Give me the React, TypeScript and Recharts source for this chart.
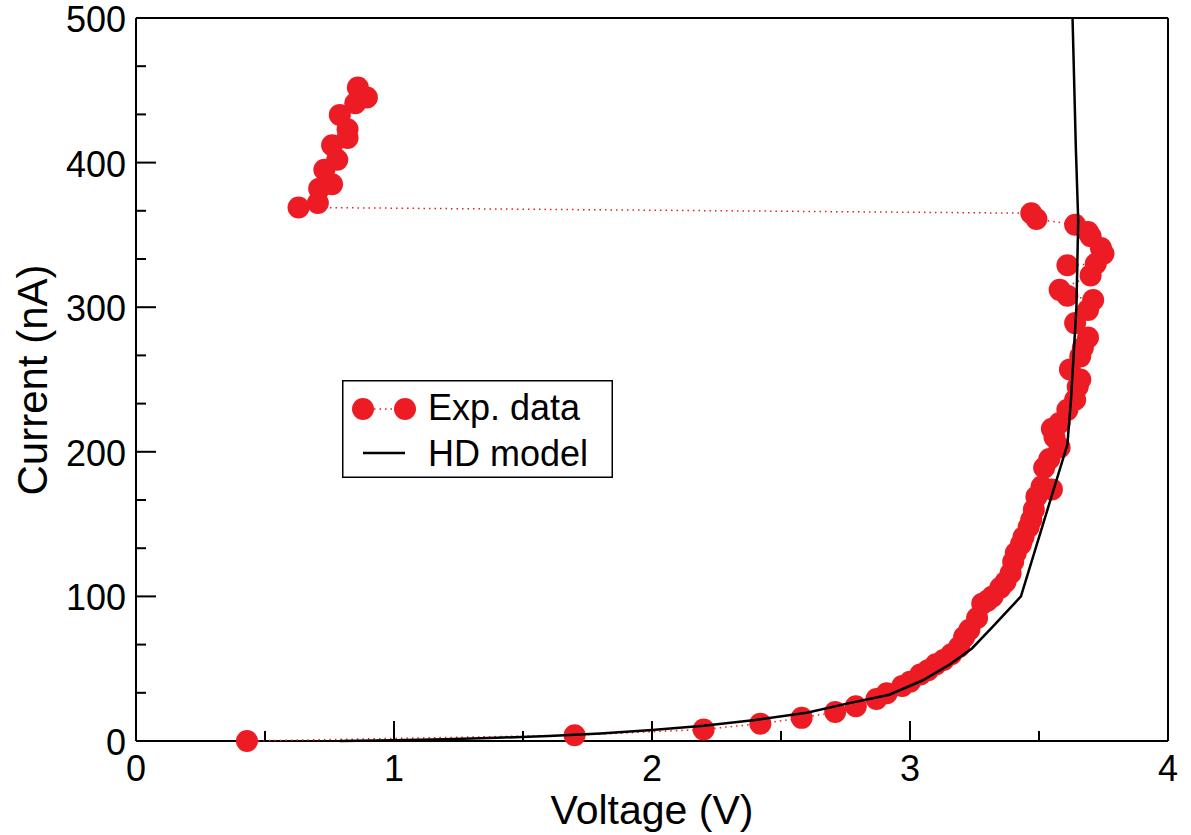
import {
  Legend,
  ReferenceLine,
  Scatter,
  ScatterChart,
  XAxis,
  YAxis
} from "recharts";

// measured I-V sweep, in sweep order
const expVoltage = [
  0.43, 1.7, 2.2, 2.42, 2.58, 2.71, 2.79, 2.87, 2.91, 2.97, 3.0, 3.04, 3.07,
  3.1, 3.13, 3.16, 3.19, 3.21, 3.23, 3.26, 3.28, 3.3, 3.32, 3.35, 3.37, 3.39,
  3.4, 3.41, 3.43, 3.44, 3.46, 3.47, 3.48, 3.49, 3.51, 3.55, 3.52, 3.54, 3.58,
  3.56, 3.55, 3.58, 3.61, 3.64, 3.65, 3.66, 3.62, 3.66, 3.67, 3.69, 3.64,
  3.69, 3.71, 3.61, 3.58, 3.7, 3.61, 3.72, 3.75, 3.74, 3.7, 3.69, 3.64, 3.49,
  3.47, 0.63, 0.705, 0.71, 0.76, 0.73, 0.78, 0.76, 0.82, 0.82, 0.79, 0.85,
  0.895, 0.86
];
const expCurrent = [
  0, 4, 8, 12, 16, 20, 24, 29, 33, 38, 41, 46, 49, 53, 56, 60, 65, 72, 77, 85,
  95, 97, 100, 106, 110, 116, 124, 130, 136, 141, 148, 153, 160, 169, 176, 174,
  189, 195, 203, 210, 216, 220, 229, 236, 245, 250, 257, 266, 272, 279, 289,
  298, 305, 308, 312, 322, 329, 330, 337, 341, 349, 352, 357, 361, 365, 369,
  372, 382, 385, 395, 402, 412, 417, 423, 433, 441, 445, 452
];

// hydrodynamic model curve
const modelVoltage = [
  0.79, 1.0, 1.2, 1.4, 1.6, 1.8, 2.0, 2.2, 2.4, 2.6, 2.76, 2.92, 3.05, 3.155,
  3.24, 3.32, 3.43, 3.61, 3.624, 3.645, 3.652, 3.643, 3.63
];
const modelCurrent = [
  0, 0.6, 1.2, 2.2, 3.5, 5.2, 7.6, 10.5, 14.5, 19.5, 26, 32, 42, 53, 64, 79,
  100, 205, 236, 300, 360, 409, 500
];

const xTicks = [0, 0.5, 1, 1.5, 2, 2.5, 3, 3.5, 4];
const yTicks = [
  0, 33.33, 66.67, 100, 133.33, 166.67, 200, 233.33, 266.67, 300, 333.33,
  366.67, 400, 433.33, 466.67, 500
];

const expData = expVoltage.map((v, i) => ({ v, i: expCurrent[i] }));
const modelData = modelVoltage.map((v, i) => ({ v, i: modelCurrent[i] }));

const font = '"Liberation Sans", Arial, Helvetica, sans-serif';
const red = "#ed1c24";

const isMajor = (value: number) => Math.abs(value - Math.round(value)) < 1e-6;

function XTick({ x, y, payload }: any) {
  const major = isMajor(payload.value);
  return (
    <g>
      <line x1={x} x2={x} y1={y} y2={y - (major ? 20 : 10)} stroke="#000" strokeWidth={2} />
      {major && (
        <text x={x} y={y + 40} textAnchor="middle" fontSize={36} fontFamily={font} fill="#000">
          {payload.value}
        </text>
      )}
    </g>
  );
}

function YTick({ x, y, payload }: any) {
  const major = isMajor(payload.value / 100);
  return (
    <g>
      <line x1={x} x2={x + (major ? 20 : 10)} y1={y} y2={y} stroke="#000" strokeWidth={2} />
      {major && (
        <text x={x - 10} y={y + 14} textAnchor="end" fontSize={36} fontFamily={font} fill="#000">
          {Math.round(payload.value)}
        </text>
      )}
    </g>
  );
}

function LegendBox({ payload }: any) {
  const names = (payload ?? []).map((p: any) => p.value);
  return (
    <svg width={271} height={98} style={{ display: "block" }}>
      <rect x={0.75} y={0.75} width={269.5} height={96.5} fill="#fff" stroke="#000" strokeWidth={1.5} />
      <line x1={21} x2={63} y1={29} y2={29} stroke={red} strokeWidth={1.5} strokeDasharray="1.5 4" />
      <circle cx={21} cy={29} r={11} fill={red} />
      <circle cx={63} cy={29} r={11} fill={red} />
      <text x={86} y={40} fontSize={36} fontFamily={font} fill="#000">
        {names[0] ?? "Exp. data"}
      </text>
      <line x1={21} x2={63} y1={73} y2={73} stroke="#000" strokeWidth={2.5} />
      <text x={86} y={86} fontSize={36} fontFamily={font} fill="#000">
        {names[1] ?? "HD model"}
      </text>
    </svg>
  );
}

const Dot = (props: any) => <circle cx={props.cx} cy={props.cy} r={11} fill={red} />;
const NoDot = () => <g />;

export default function App() {
  return (
    <div style={{ position: "absolute", left: 0, top: 0, width: 1191, height: 835, background: "#fff" }}>
      <ScatterChart width={1191} height={835} margin={{ top: 18, right: 23, bottom: 14, left: 36 }}>
        <XAxis
          dataKey="v"
          type="number"
          domain={[0, 4]}
          ticks={xTicks}
          interval={0}
          height={80}
          tickSize={0}
          tickMargin={0}
          tickLine={false}
          tick={<XTick />}
          axisLine={{ stroke: "#000", strokeWidth: 2 }}
          label={{
            value: "Voltage (V)",
            position: "insideBottom",
            offset: -3,
            style: { fontSize: 41, fontFamily: font, fill: "#000" }
          }}
        />
        <YAxis
          dataKey="i"
          type="number"
          domain={[0, 500]}
          ticks={yTicks}
          interval={0}
          width={100}
          tickSize={0}
          tickMargin={0}
          tickLine={false}
          tick={<YTick />}
          axisLine={{ stroke: "#000", strokeWidth: 2 }}
          label={{
            content: () => (
              <text
                x={47}
                y={380}
                transform="rotate(-90, 47, 380)"
                textAnchor="middle"
                fontSize={42}
                fontFamily={font}
                fill="#000"
              >
                Current (nA)
              </text>
            )
          }}
        />
        <ReferenceLine y={500} stroke="#000" strokeWidth={2} />
        <ReferenceLine x={4} stroke="#000" strokeWidth={2} />
        <Scatter
          name="Exp. data"
          data={expData}
          fill={red}
          shape={Dot}
          line={{ stroke: red, strokeWidth: 1.5, strokeDasharray: "1.5 4" }}
          isAnimationActive={false}
        />
        <Scatter
          name="HD model"
          data={modelData}
          fill="#000"
          shape={NoDot}
          line={{ stroke: "#000", strokeWidth: 2.5 }}
          isAnimationActive={false}
        />
        <Legend
          layout="horizontal"
          verticalAlign="middle"
          content={<LegendBox />}
          wrapperStyle={{ left: 342, top: 380, width: 271, height: 98 }}
        />
      </ScatterChart>
    </div>
  );
}
